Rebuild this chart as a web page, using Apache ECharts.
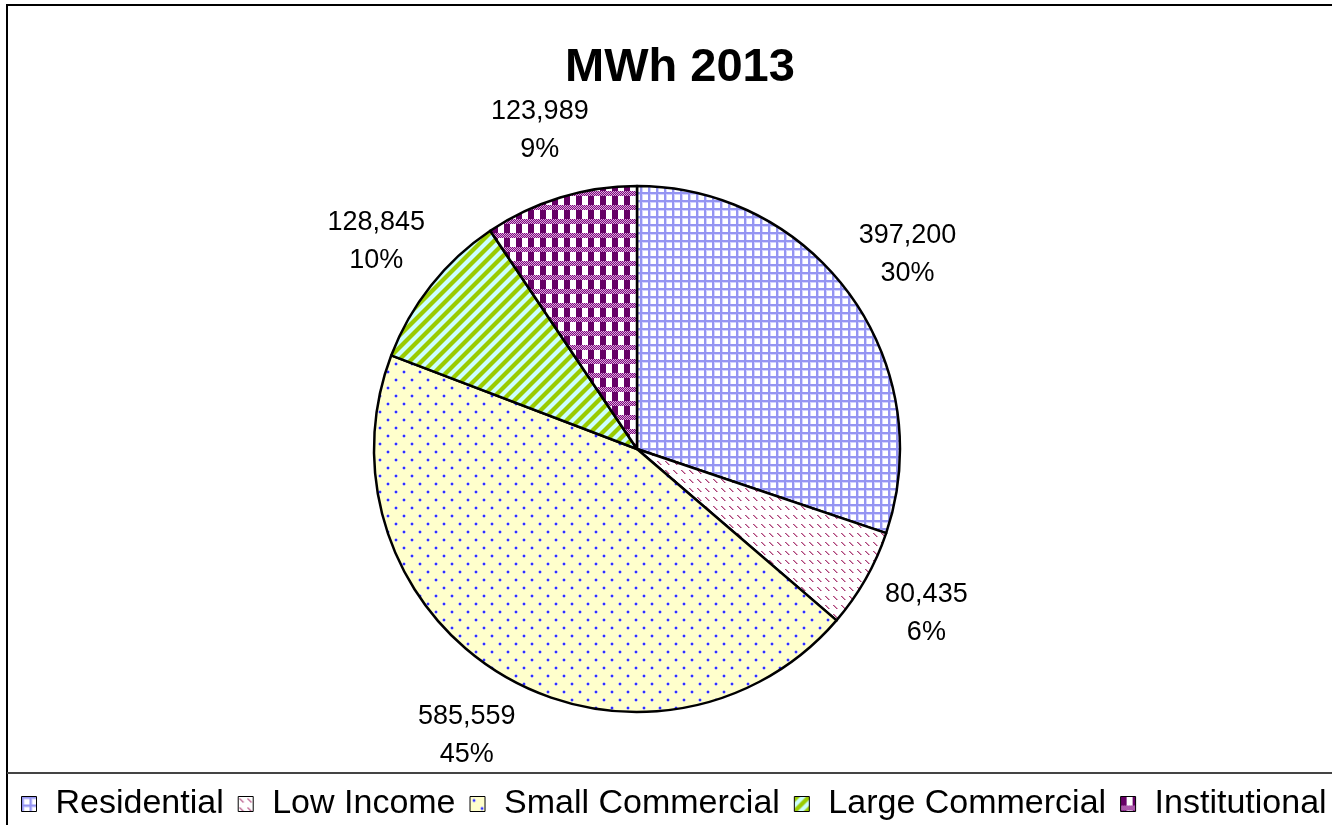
<!DOCTYPE html>
<html>
<head>
<meta charset="utf-8">
<script src="https://cdn.jsdelivr.net/npm/echarts@6/dist/echarts.min.js"></script>
<style>
  html, body { margin: 0; padding: 0; background: #fff; }
  #chart { width: 1332px; height: 825px; }
</style>
</head>
<body>
<div id="chart"></div>
<script>
// Energy use by customer class, 2013
const categories = ['Residential', 'Low Income', 'Small Commercial', 'Large Commercial', 'Institutional'];
const mwh2013 = [397200, 80435, 585559, 128845, 123989];
const chartTitle = 'MWh 2013';

const FONT = '"Liberation Sans", Arial, sans-serif';

// Small canvas tiles used as repeating fill patterns for the slices
function tile(w, h, draw) {
  const c = document.createElement('canvas');
  c.width = w; c.height = h;
  const g = c.getContext('2d');
  draw(g, w, h);
  return c;
}
function px(g, x, y, col) { g.fillStyle = col; g.fillRect(x, y, 1, 1); }

const patterns = [
  // lavender grid on white
  tile(8, 8, (g, w, h) => {
    g.fillStyle = '#ffffff'; g.fillRect(0, 0, w, h);
    g.fillStyle = '#d2d2ff'; g.fillRect(2, 0, 1, h); g.fillRect(0, 2, w, 1);
    g.fillStyle = '#9595f2'; g.fillRect(0, 0, 2, h); g.fillRect(0, 0, w, 2);
  }),
  // short mauve diagonal dashes on white
  tile(8, 9, (g, w, h) => {
    g.fillStyle = '#ffffff'; g.fillRect(0, 0, w, h);
    for (let i = 0; i < 4; i++) {
      px(g, 2 + i, 2 + i, '#dc9ab8');
      px(g, 1 + i, 2 + i, '#a8447a');
    }
  }),
  // staggered blue dots on pale yellow
  tile(16, 16, (g, w, h) => {
    g.fillStyle = '#ffffcc'; g.fillRect(0, 0, w, h);
    g.fillStyle = '#c4c4f0'; g.fillRect(3, 2, 2, 4); g.fillRect(2, 3, 4, 2);
    g.fillRect(11, 10, 2, 4); g.fillRect(10, 11, 4, 2);
    g.fillStyle = '#3030ff'; g.fillRect(3, 3, 2, 2); g.fillRect(11, 11, 2, 2);
  }),
  // green diagonal stripes on pale cyan
  tile(12, 12, (g, w, h) => {
    for (let y = 0; y < h; y++) {
      for (let x = 0; x < w; x++) {
        const k = (x + y) % 12;
        px(g, x, y, k < 5 ? '#99cc00' : (k === 5 || k === 11) ? '#b6e07c' : '#ccffff');
      }
    }
  }),
  // purple checks
  tile(12, 14, (g, w, h) => {
    g.fillStyle = '#ffffff'; g.fillRect(0, 0, w, h);
    g.fillStyle = '#660066'; g.fillRect(0, 0, 6, 9);
    for (let y = 9; y < h; y++) {
      for (let x = 0; x < w; x++) {
        px(g, x, y, (x + y) % 2 ? '#800080' : '#d8b0d8');
      }
    }
  })
];

const sliceData = categories.map((name, i) => ({
  name: name,
  value: mwh2013[i],
  itemStyle: { color: { image: patterns[i], repeat: 'repeat' } }
}));

const labelData = categories.map((name, i) => ({ name: name, value: mwh2013[i] }));

const chart = echarts.init(document.getElementById('chart'), null, { renderer: 'canvas' });

chart.setOption({
  animation: false,
  backgroundColor: '#ffffff',
  title: {
    text: chartTitle,
    left: 565,
    top: 45,
    padding: 0,
    textStyle: { fontFamily: FONT, fontSize: 47, fontWeight: 'bold', color: '#000' }
  },
  legend: {
    data: categories,
    left: 21,
    top: 787,
    padding: 0,
    icon: 'rect',
    itemWidth: 15,
    itemHeight: 15,
    itemGap: 14,
    selectedMode: false,
    itemStyle: { borderColor: '#000', borderWidth: 1 },
    textStyle: { fontFamily: FONT, fontSize: 34, color: '#000', padding: [0, 0, 0, 14] }
  },
  graphic: [
    {
      type: 'rect', silent: true, z: 100,
      shape: { x: 7, y: 5, width: 1345, height: 840 },
      style: { fill: 'none', stroke: '#000', lineWidth: 2 }
    },
    {
      type: 'line', silent: true, z: 100,
      shape: { x1: 7, y1: 773, x2: 1332, y2: 773 },
      style: { stroke: '#444', lineWidth: 2 }
    }
  ],
  series: [
    {
      type: 'pie',
      center: [637, 449],
      radius: 263,
      startAngle: 90,
      clockwise: true,
      silent: true,
      avoidLabelOverlap: false,
      itemStyle: { borderColor: '#000', borderWidth: 2.5 },
      label: { show: false },
      labelLine: { show: false },
      emphasis: { disabled: true },
      data: sliceData
    },
    {
      // value and share labels placed on a ring just outside the pie
      type: 'pie',
      center: [637, 449],
      radius: [298, 362],
      startAngle: 90,
      clockwise: true,
      silent: true,
      percentPrecision: 0,
      avoidLabelOverlap: false,
      itemStyle: { color: 'rgba(0,0,0,0)', borderWidth: 0 },
      emphasis: { disabled: true },
      labelLine: { show: false },
      label: {
        show: true,
        position: 'inside',
        overflow: 'none',
        fontFamily: FONT,
        fontSize: 27,
        lineHeight: 38,
        color: '#000',
        formatter: p => p.value.toLocaleString('en-US') + '\n' + p.percent + '%'
      },
      data: labelData
    }
  ]
});
</script>
</body>
</html>
